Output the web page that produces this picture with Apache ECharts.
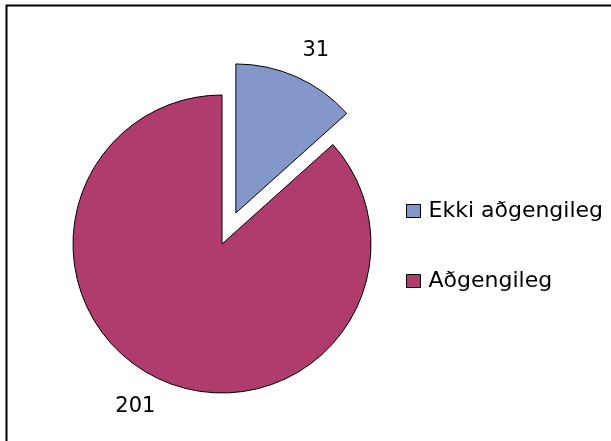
<!DOCTYPE html>
<html>
<head>
<meta charset="utf-8">
<script src="https://cdn.jsdelivr.net/npm/echarts@6/dist/echarts.min.js"></script>
<style>
html,body{margin:0;padding:0;background:#fff;}
#chart{width:611px;height:441px;}
</style>
</head>
<body>
<div id="chart"></div>
<script>
const categories = ['Ekki aðgengileg', 'Aðgengileg'];
const values = [31, 201];
const colors = ['#8497CB', '#B03B6D'];

const chart = echarts.init(document.getElementById('chart'), null, {renderer: 'canvas'});
const option = {
  animation: false,
  backgroundColor: '#ffffff',
  graphic: [{
    type: 'rect',
    shape: {x: 6.5, y: 5.5, width: 640, height: 480},
    style: {fill: 'none', stroke: '#000', lineWidth: 2}
  }],
  legend: {
    orient: 'vertical',
    left: 406,
    top: 200,
    padding: 0,
    itemWidth: 14,
    itemHeight: 13,
    itemGap: 48,
    icon: 'rect',
    data: categories,
    itemStyle: {borderColor: '#000', borderWidth: 1},
    textStyle: {fontFamily: 'DejaVu Sans, sans-serif', fontSize: 22, color: '#000', lineHeight: 22, padding: [0, 0, 0, 3]}
  },
  series: [{
    type: 'pie',
    center: [222, 244],
    radius: 149,
    startAngle: 90,
    clockwise: true,
    selectedMode: 'single',
    selectedOffset: 34,
    avoidLabelOverlap: false,
    itemStyle: {borderColor: '#000', borderWidth: 1},
    emphasis: {disabled: true},
    label: {
      show: true,
      position: 'outside',
      formatter: '{c}',
      fontFamily: 'DejaVu Sans, sans-serif',
      fontSize: 21,
      color: '#000',
      distanceToLabelLine: -6
    },
    labelLine: {show: false, length: 29, length2: 0},
    data: categories.map((c, i) => ({
      name: c,
      value: values[i],
      selected: i === 0,
      itemStyle: {color: colors[i]}
    }))
  }]
};
chart.setOption(option);
</script>
</body>
</html>
